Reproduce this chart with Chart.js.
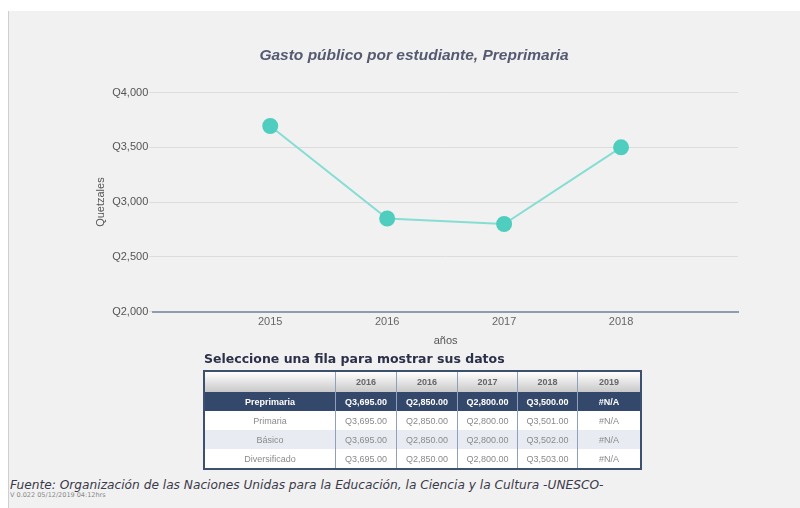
<!DOCTYPE html>
<html>
<head>
<meta charset="utf-8">
<script src="https://cdn.jsdelivr.net/npm/chart.js@4.4.0/dist/chart.umd.min.js"></script>
<style>
  html, body { margin: 0; padding: 0; background: #fff; }
  body { width: 800px; height: 508px; position: relative; overflow: hidden; font-family: "Liberation Sans", Arial, sans-serif; }
  #panel { position: absolute; left: 8px; top: 11px; width: 792px; height: 497px; background: #f1f1f1; border-left: 1px solid #cfcfcf; }
  #chartBox { position: absolute; left: 26px; top: 11px; width: 774px; height: 345px; }
  #tblTitle { position: absolute; left: 204px; top: 351px; font-family: "DejaVu Sans", Verdana, sans-serif; font-weight: bold; font-size: 12.5px; color: #2c3048; }
  table { position: absolute; left: 203px; top: 370px; border-collapse: collapse; border: 2px solid #3d5070; font-size: 9px; table-layout: fixed; }
  td, th { height: 19px; padding: 0; text-align: center; border-left: 1px solid #8ea0bb; color: #8a8a8a; overflow: hidden; white-space: nowrap; }
  th { background: linear-gradient(#ffffff, #c8c8c8); color: #666; font-weight: bold; height: 20px; }
  tr.sel td { background: #34486b; color: #fff; font-weight: bold; }
  tr.alt td { background: #e8ecf2; }
  tr.wht td { background: #fff; }
  #fuente { position: absolute; left: 10px; top: 478px; font-family: "DejaVu Sans", Verdana, sans-serif; font-style: italic; font-size: 12.2px; color: #3a3a4a; }
  #ver { position: absolute; left: 10px; top: 491px; font-family: "DejaVu Sans", Verdana, sans-serif; font-size: 6.5px; color: #888; }
</style>
</head>
<body>
<div id="panel"></div>
<div id="chartBox"><canvas id="line"></canvas></div>
<div id="tblTitle">Seleccione una fila para mostrar sus datos</div>
<table id="tbl"></table>
<div id="fuente">Fuente: Organización de las Naciones Unidas para la Educación, la Ciencia y la Cultura -UNESCO-</div>
<div id="ver">V 0.022 05/12/2019 04:12hrs</div>
<script>
const years = [2015, 2016, 2017, 2018];
const gasto = [3695, 2850, 2800, 3500];
const yTicks = [2000, 2500, 3000, 3500, 4000];

const tblHeader = ['', '2016', '2016', '2017', '2018', '2019'];
const tblRows = ['Preprimaria', 'Primaria', 'Básico', 'Diversificado'];
const tblValues = [
  ['Q3,695.00', 'Q2,850.00', 'Q2,800.00', 'Q3,500.00', '#N/A'],
  ['Q3,695.00', 'Q2,850.00', 'Q2,800.00', 'Q3,501.00', '#N/A'],
  ['Q3,695.00', 'Q2,850.00', 'Q2,800.00', 'Q3,502.00', '#N/A'],
  ['Q3,695.00', 'Q2,850.00', 'Q2,800.00', 'Q3,503.00', '#N/A']
];
const colWidths = [130, 60, 60, 59, 59, 62];
const rowClass = ['sel', 'wht', 'alt', 'wht'];

// build table
const tbl = document.getElementById('tbl');
let html = '<tr>' + tblHeader.map((h, i) => '<th style="width:' + colWidths[i] + 'px">' + h + '</th>').join('') + '</tr>';
tblRows.forEach((r, i) => {
  html += '<tr class="' + rowClass[i] + '"><td>' + r + '</td>' + tblValues[i].map(v => '<td>' + v + '</td>').join('') + '</tr>';
});
tbl.innerHTML = html;

const fmtQ = v => 'Q' + v.toLocaleString('en-US');

const ctx = document.getElementById('line').getContext('2d');
const chart = new Chart(ctx, {
  type: 'line',
  data: {
    datasets: [{
      label: 'Preprimaria',
      data: years.map((y, i) => ({ x: y, y: gasto[i] })),
      borderColor: '#86ddd3',
      borderWidth: 2,
      backgroundColor: '#4fcdbf',
      pointBackgroundColor: '#4fcdbf',
      pointBorderColor: '#4fcdbf',
      pointRadius: 7,
      tension: 0
    }]
  },
  options: {
    responsive: true,
    maintainAspectRatio: false,
    animation: false,
    layout: { padding: { left: 64, right: 62, top: 0, bottom: 8 } },
    plugins: {
      legend: { display: false },
      tooltip: { enabled: false },
      title: {
        display: true,
        text: 'Gasto público por estudiante, Preprimaria',
        color: '#565a70',
        font: { family: 'Liberation Sans', size: 15.5, style: 'italic' },
        padding: { top: 35, bottom: 28 }
      }
    },
    scales: {
      x: {
        type: 'linear',
        min: 2014,
        max: 2019,
        afterBuildTicks: axis => { axis.ticks = years.map(v => ({ value: v })); },
        grid: { display: false, drawTicks: false },
        border: { color: '#8e9bb1', width: 2 },
        ticks: { color: '#666', font: { family: 'Liberation Sans', size: 11 }, padding: 4, callback: v => String(v) },
        title: { display: true, text: 'años', color: '#555', font: { family: 'Liberation Sans', size: 11 }, padding: { top: 2, bottom: 0 } }
      },
      y: {
        min: 2000,
        max: 4000,
        afterBuildTicks: axis => { axis.ticks = yTicks.map(v => ({ value: v })); },
        grid: { color: '#dcdcdc', tickLength: 4 },
        border: { display: false },
        ticks: { color: '#555', font: { family: 'Liberation Sans', size: 11 }, padding: 1, callback: v => fmtQ(v) },
        title: { display: true, text: 'Quetzales', color: '#555', font: { family: 'Liberation Sans', size: 11 }, padding: 4 }
      }
    }
  }
});
</script>
</body>
</html>
